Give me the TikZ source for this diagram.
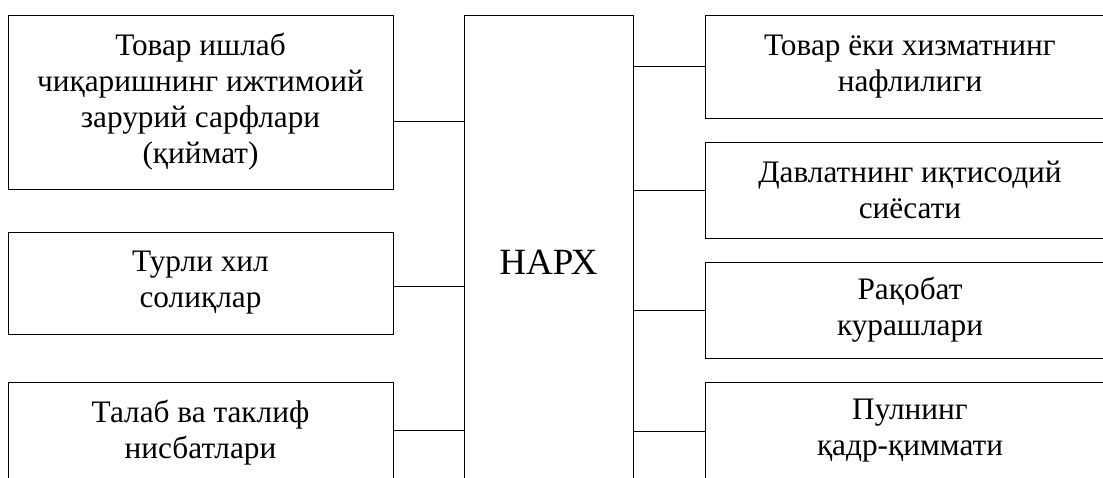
\documentclass[tikz,border=0pt]{standalone}
\usepackage{fontspec}
\setmainfont{Liberation Serif}
\newfontfamily\narxfont{Liberation Serif}
\usepackage{tikz}
\usetikzlibrary{positioning}

\begin{document}
\begin{tikzpicture}[
  x=1pt,y=-1pt,
  factor/.style={draw,line width=1pt,align=center,inner sep=0pt,
                 font=\narxfont\fontsize{31.3}{36}\selectfont},
  lfactor/.style={factor,minimum width=385pt},
  rfactor/.style={factor,minimum width=410pt},
  core/.style={draw,line width=1pt,minimum width=169pt,minimum height=494pt,
               inner sep=0pt,font=\narxfont\fontsize{37}{44}\selectfont},
  link/.style={line width=1pt}
]
\clip (0,0) rectangle (1103,477);
% centre
\node[core] (narx) at (548.5,262) {НАРХ};
% left column
\node[lfactor,minimum height=174pt] (qiymat) at (200.5,102)
  {Товар ишлаб\\чиқаришнинг ижтимоий\\зарурий сарфлари\\(қиймат)};
\node[lfactor,minimum height=102pt] (soliq) at (200.5,283) {Турли хил\\солиқлар};
\node[lfactor,minimum height=102pt] (talab) at (200.5,433) {Талаб ва таклиф\\нисбатлари};
% right column
\node[rfactor,minimum height=103pt] (naflilik) at (910,66.5) {Товар ёки хизматнинг\\нафлилиги};
\node[rfactor,minimum height=96pt] (siyosat) at (910,190) {Давлатнинг иқтисодий\\сиёсати};
\node[rfactor,minimum height=96pt] (raqobat) at (910,310) {Рақобат\\курашлари};
\node[rfactor,minimum height=98pt] (pul) at (910,431) {Пулнинг\\қадр-қиммати};
% connectors
\draw[link] ([yshift=-19pt]qiymat.east) coordinate (q1) -- (q1 -| narx.west);
\draw[link] ([yshift=-3pt]soliq.east) coordinate (q2) -- (q2 -| narx.west);
\draw[link] ([yshift=3pt]talab.east) coordinate (q3) -- (q3 -| narx.west);
\foreach \f in {naflilik,siyosat,raqobat,pul}
  \draw[link] (\f.west) -- (\f.west -| narx.east);
\end{tikzpicture}
\end{document}
